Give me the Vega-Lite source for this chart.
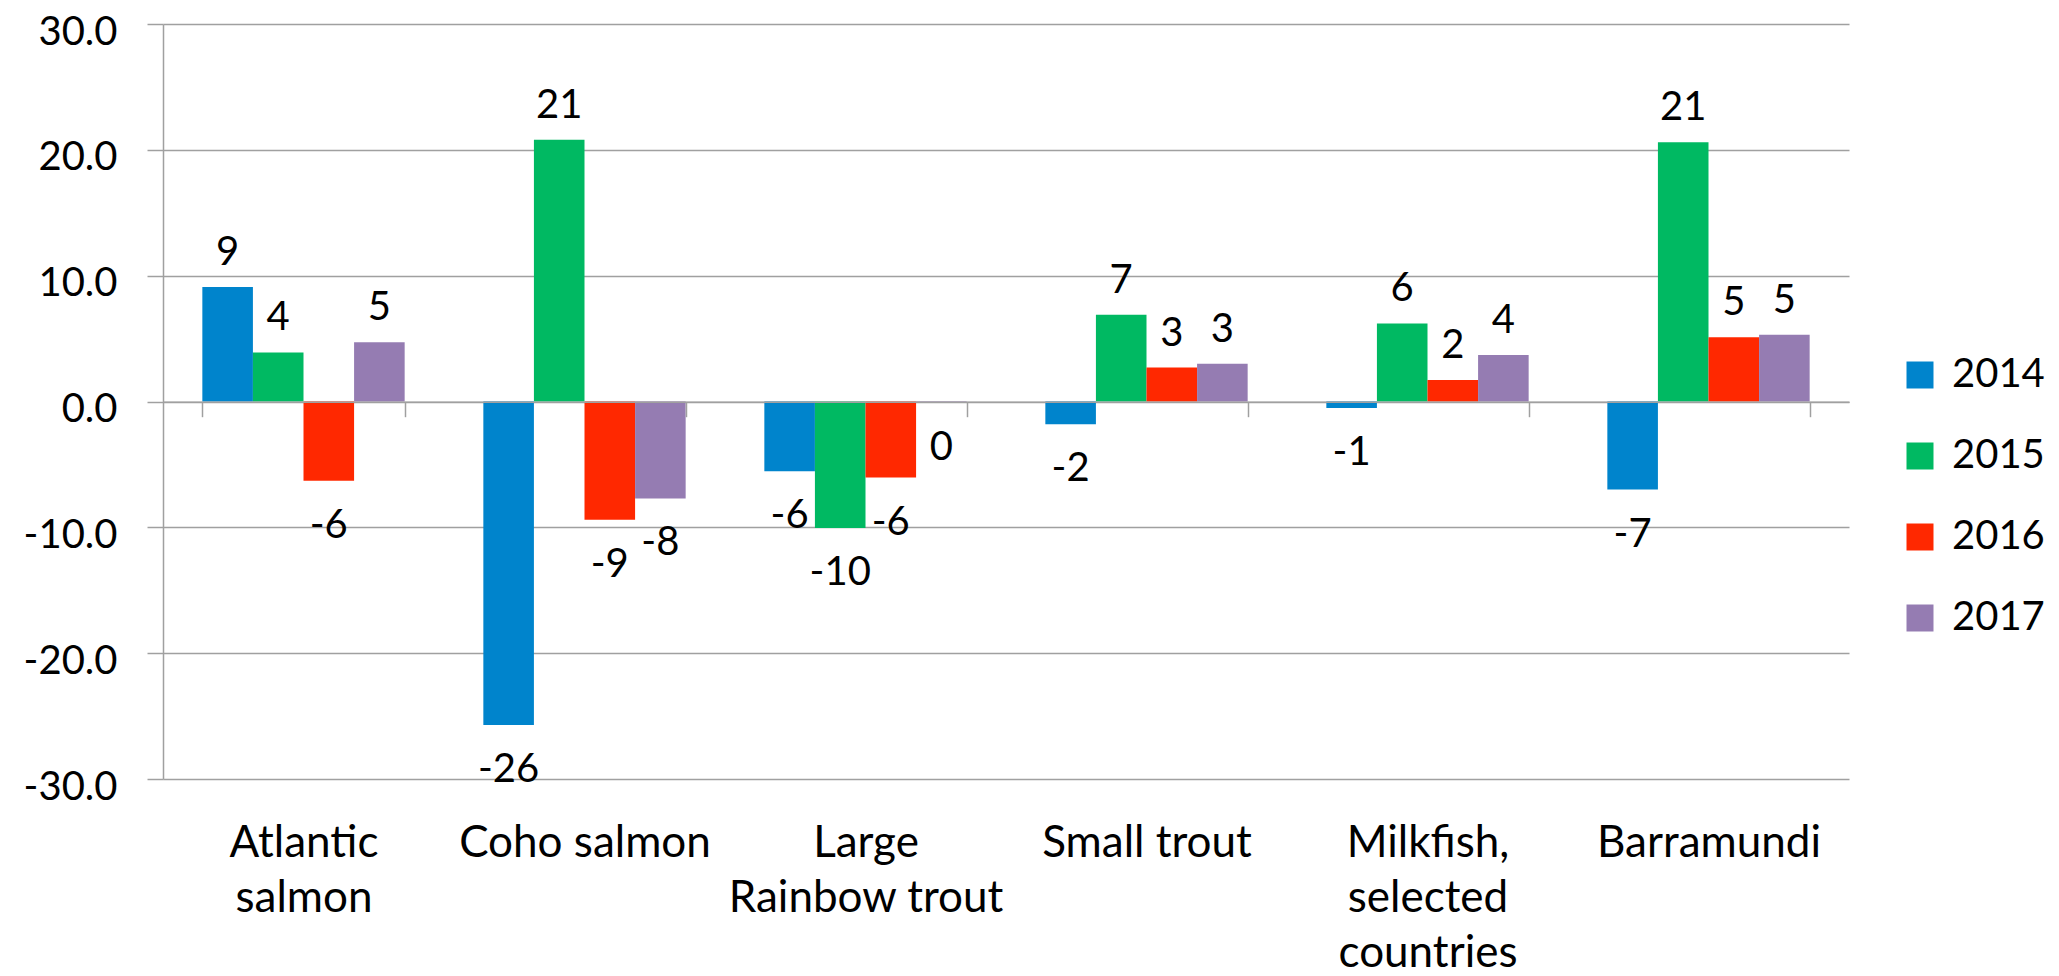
{
  "$schema": "https://vega.github.io/schema/vega-lite/v6.json",
  "autosize": {"type": "none"},
  "padding": {"left": 163, "top": 24, "right": 210, "bottom": 197},
  "width": 1686,
  "height": 755,
  "config": {
    "locale": {"number": {"decimal": ".", "thousands": ",", "grouping": [3], "currency": ["$", ""], "minus": "-"}},
    "view": {"stroke": null},
    "font": "Lato",
    "text": {"font": "Lato"}
  },
  "data": {
    "values": [
      {"species": "Atlantic salmon", "year": "2014", "value": 9.1},
      {"species": "Atlantic salmon", "year": "2015", "value": 3.9},
      {"species": "Atlantic salmon", "year": "2016", "value": -6.3},
      {"species": "Atlantic salmon", "year": "2017", "value": 4.7},
      {"species": "Coho salmon", "year": "2014", "value": -25.7},
      {"species": "Coho salmon", "year": "2015", "value": 20.8},
      {"species": "Coho salmon", "year": "2016", "value": -9.4},
      {"species": "Coho salmon", "year": "2017", "value": -7.7},
      {"species": "Large Rainbow trout", "year": "2014", "value": -5.55},
      {"species": "Large Rainbow trout", "year": "2015", "value": -10.05},
      {"species": "Large Rainbow trout", "year": "2016", "value": -6.04},
      {"species": "Large Rainbow trout", "year": "2017", "value": -0.1},
      {"species": "Small trout", "year": "2014", "value": -1.8},
      {"species": "Small trout", "year": "2015", "value": 6.9},
      {"species": "Small trout", "year": "2016", "value": 2.7},
      {"species": "Small trout", "year": "2017", "value": 3.0},
      {"species": "Milkfish, selected countries", "year": "2014", "value": -0.52},
      {"species": "Milkfish, selected countries", "year": "2015", "value": 6.2},
      {"species": "Milkfish, selected countries", "year": "2016", "value": 1.7},
      {"species": "Milkfish, selected countries", "year": "2017", "value": 3.7},
      {"species": "Barramundi", "year": "2014", "value": -7.0},
      {"species": "Barramundi", "year": "2015", "value": 20.6},
      {"species": "Barramundi", "year": "2016", "value": 5.1},
      {"species": "Barramundi", "year": "2017", "value": 5.3}
    ]
  },
  "encoding": {
    "x": {
      "field": "species",
      "type": "nominal",
      "sort": ["Atlantic salmon", "Coho salmon", "Large Rainbow trout", "Small trout", "Milkfish, selected countries", "Barramundi"],
      "scale": {"paddingInner": 0.28, "paddingOuter": 0.14},
      "axis": {
        "orient": "bottom",
        "offset": -377.3,
        "title": null,
        "domain": true,
        "domainColor": "#a0a0a0",
        "domainWidth": 1.5,
        "ticks": true,
        "tickBand": "extent",
        "tickSize": 15,
        "tickColor": "#a0a0a0",
        "tickWidth": 1.5,
        "labelAngle": 0,
        "labelAlign": "center",
        "labelBaseline": "top",
        "labelPadding": 405,
        "labelFontSize": 44,
        "labelLineHeight": 55,
        "labelLimit": 0,
        "labelColor": "#000000",
        "labelFont": "Lato",
        "labelExpr": "datum.value == 'Atlantic salmon' ? ['Atlantic', 'salmon'] : datum.value == 'Large Rainbow trout' ? ['Large', 'Rainbow trout'] : datum.value == 'Milkfish, selected countries' ? ['Milkfish,', 'selected', 'countries'] : datum.value",
        "zindex": 1
      }
    },
    "xOffset": {"field": "year", "type": "nominal", "sort": ["2014", "2015", "2016", "2017"]},
    "y": {
      "field": "value",
      "type": "quantitative",
      "scale": {"domain": [-30, 30], "nice": false, "zero": false},
      "axis": {
        "title": null,
        "values": [-30, -20, -10, 0, 10, 20, 30],
        "format": ".1f",
        "grid": true,
        "gridColor": "#a0a0a0",
        "gridWidth": 1.5,
        "domain": true,
        "domainColor": "#a0a0a0",
        "domainWidth": 1.5,
        "ticks": true,
        "tickSize": 16,
        "tickColor": "#a0a0a0",
        "tickWidth": 1.5,
        "labelPadding": 30,
        "labelBaseline": "alphabetic",
        "labelOffset": 20,
        "labelFontSize": 40,
        "labelColor": "#000000",
        "labelFont": "Lato"
      }
    }
  },
  "layer": [
    {
      "mark": {"type": "bar"},
      "encoding": {
        "color": {
          "field": "year",
          "type": "nominal",
          "scale": {"domain": ["2014", "2015", "2016", "2017"], "range": ["#0084CC", "#00B962", "#FF2800", "#957CB2"]},
          "legend": {
            "orient": "none",
            "legendX": 1737,
            "legendY": 331,
            "title": null,
            "symbolType": "square",
            "symbolSize": 729,
            "symbolStrokeWidth": 0,
            "labelFontSize": 40,
            "labelFont": "Lato",
            "labelColor": "#000000",
            "labelOffset": 12,
            "rowPadding": 41,
            "padding": 0
          }
        }
      }
    },
    {
      "transform": [{"filter": "datum.value >= 0"}],
      "mark": {"type": "text", "baseline": "bottom", "dy": -14, "fontSize": 40, "font": "Lato", "color": "#000000"},
      "encoding": {"text": {"field": "value", "type": "quantitative", "format": ".0f"}}
    },
    {
      "transform": [{"filter": "datum.value < 0"}],
      "mark": {"type": "text", "baseline": "top", "dy": 25, "fontSize": 40, "font": "Lato", "color": "#000000"},
      "encoding": {"text": {"field": "value", "type": "quantitative", "format": ".0f"}}
    }
  ]
}
